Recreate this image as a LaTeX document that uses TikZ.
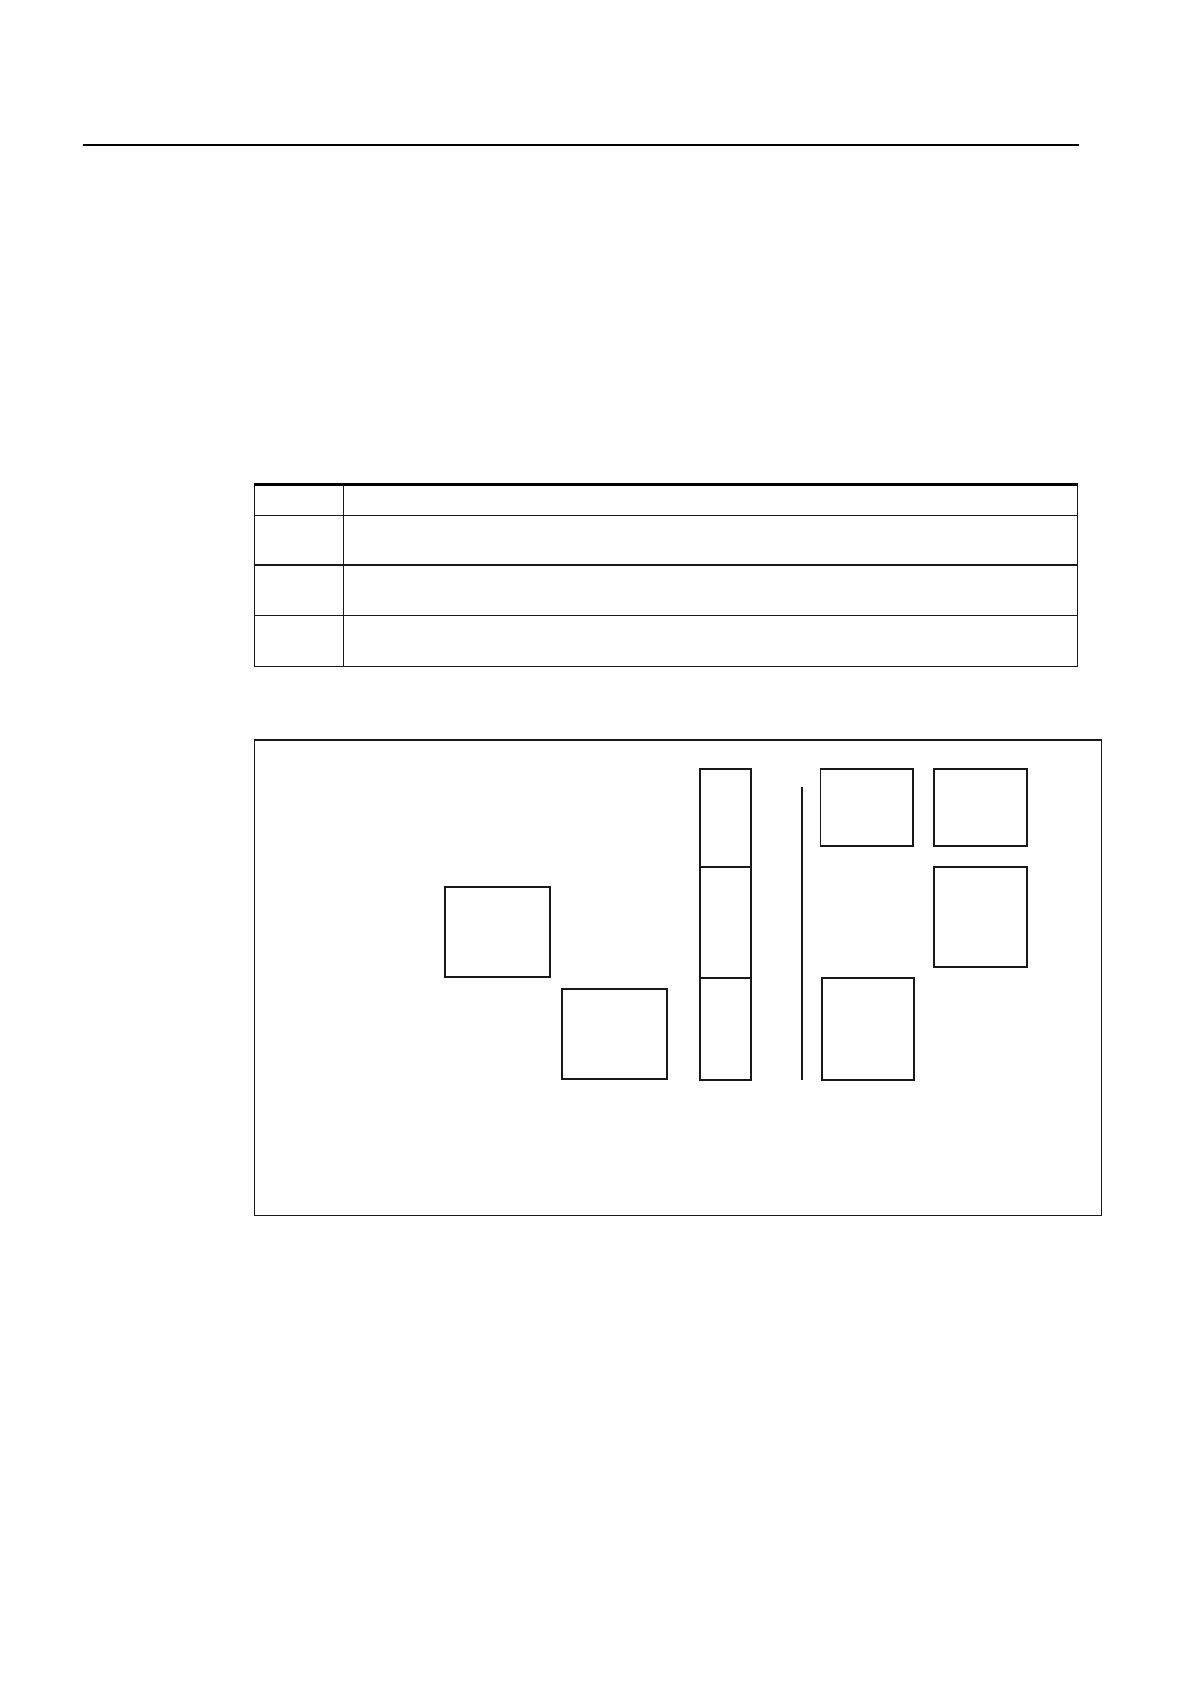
\documentclass[tikz,border=0pt]{standalone}
\usetikzlibrary{fit}
\begin{document}
\begin{tikzpicture}[x=0.537pt,y=-0.537pt,
  blk/.style={draw=black!90,line width=0.95pt,inner sep=0pt,rectangle},
  frame/.style={draw=black!90,line width=0.55pt,inner sep=0pt,rectangle},
  tline/.style={black!90,line width=0.65pt},
  rulehead/.style={black,line width=0.7pt},
  thickline/.style={black,line width=1.4pt},
  barline/.style={black!90,line width=0.95pt}]
\useasboundingbox[fill=white] (0,0) rectangle (1108,1568);
% header rule
\coordinate (rl) at (77,135);
\coordinate (rr) at (1005,135);
\draw[rulehead] (rl) -- (rr);
% table
\node[frame,fit={(237,452) (1003,621)}] (tab) {};
\coordinate (c1t) at (320,452);
\coordinate (c1b) at (320,621);
\draw[tline] (c1t) -- (c1b);
\foreach \yy/\nm in {480/ra,526/rb,573/rc}{
  \coordinate (\nm l) at (237,\yy);
  \coordinate (\nm r) at (1003,\yy);
  \draw[tline] (\nm l) -- (\nm r);
}
\draw[thickline] (tab.north west) -- (tab.north east);
% figure frame
\node[frame,fit={(237,689) (1026,1132)}] (fig) {};
% boxes
\node[blk,fit={(414,826) (512,910)}] (boxA) {};
\node[blk,fit={(523,920.5) (621,1005)}] (boxB) {};
\node[blk,fit={(651.5,716.3) (699.2,807)}] (col1) {};
\node[blk,fit={(651.5,807) (699.2,910.3)}] (col2) {};
\node[blk,fit={(651.5,910.3) (699.2,1005.3)}] (col3) {};
\node[blk,fit={(764,716.3) (850,787.4)}] (boxC) {};
\node[blk,fit={(870,716.3) (956.3,787.4)}] (boxD) {};
\node[blk,fit={(870,807) (956.3,900.1)}] (boxE) {};
\node[blk,fit={(765,910.3) (851,1005.3)}] (boxF) {};
% vertical bar
\coordinate (vt) at (747,732.8);
\coordinate (vb) at (747,1005.3);
\draw[barline] (vt) -- (vb);
\end{tikzpicture}
\end{document}
